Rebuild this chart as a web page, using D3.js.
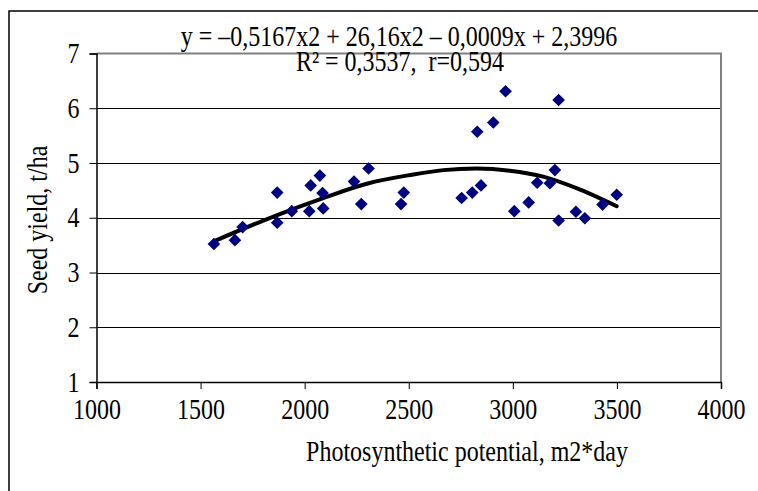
<!DOCTYPE html>
<html>
<head>
<meta charset="utf-8">
<script src="https://cdn.jsdelivr.net/npm/d3@7"></script>
<style>
	body { margin: 0; background: #fff; }
	svg text { font-family: "Liberation Serif", "Times New Roman", serif; fill: #000; font-size: 24px; white-space: pre; }
</style>
</head>
<body>
<div id="chart"></div>
<script>

// photosynthetic potential (m2*day) and seed yield (t/ha)
var potential = [1564, 1665, 1702, 1868, 1868, 1938, 2022, 2029, 2073, 2086, 2089,
	2237, 2272, 2307, 2463, 2476, 2754, 2805, 2829, 2847, 2906, 2965, 3007, 3076,
	3117, 3178, 3202, 3220, 3220, 3303, 3346, 3431, 3499];
var yieldVals = [3.52, 3.59, 3.83, 4.46, 3.91, 4.12, 4.12, 4.59, 4.77, 4.45, 4.17,
	4.66, 4.25, 4.90, 4.25, 4.46, 4.36, 4.46, 5.57, 4.59, 5.74, 6.31, 4.12, 4.28,
	4.64, 4.63, 4.87, 6.15, 3.95, 4.11, 3.99, 4.24, 4.42];

// trend line
var trendX = [1564, 1868, 2089, 2307, 2506, 2666, 2826, 2986, 3146, 3306, 3499];
var trendY = [3.57, 4.05, 4.36, 4.63, 4.78, 4.87, 4.90, 4.86, 4.75, 4.54, 4.21];

var xTicks = [1000, 1500, 2000, 2500, 3000, 3500, 4000];
var yTicks = [1, 2, 3, 4, 5, 6, 7];

var equation = 'y = \u20130,5167x2 + 26,16x2 \u2013 0,0009x + 2,3996';
var rText = 'R\u00b2 = 0,3537,  r=0,594';
var xTitle = 'Photosynthetic potential, m2*day';
var yTitle = 'Seed yield, t/ha';

var width = 758,
	height = 491,
	stretch = 1.2, // the text in the picture is a bit taller than it is wide
	plot = { left: 96.5, right: 721, top: 53.5, bottom: 382 };

var x = d3.scaleLinear().domain([1000, 4000]).range([plot.left, plot.right]);
var y = d3.scaleLinear().domain([1, 7]).range([plot.bottom, plot.top]);

var svg = d3.select('#chart')
	.append('svg')
	.attr('width', width)
	.attr('height', height);

svg.append('rect')
	.attr('width', width).attr('height', height)
	.attr('fill', '#fff');

// outer chart border (runs off the right and bottom edge)
svg.append('rect')
	.attr('x', 9).attr('y', 11)
	.attr('width', 800).attr('height', 520)
	.attr('fill', 'none')
	.attr('stroke', '#000')
	.attr('stroke-width', 1.5);

// gridlines
svg.selectAll('line.grid')
	.data(yTicks.slice(1, -1))
	.enter()
	.append('line')
	.attr('class', 'grid')
	.attr('x1', plot.left).attr('x2', plot.right)
	.attr('y1', function(d){ return Math.round(y(d)) + 0.5; })
	.attr('y2', function(d){ return Math.round(y(d)) + 0.5; })
	.attr('stroke', '#000')
	.attr('stroke-width', 1);

// gray frame on top and right
svg.append('path')
	.attr('d', 'M' + plot.left + ',' + y(7) + 'H' + x(4000) + 'V' + y(1))
	.attr('fill', 'none')
	.attr('stroke', '#808080')
	.attr('stroke-width', 2);

var xAxis = svg.append('g')
	.attr('transform', 'translate(0,' + y(1) + ')')
	.call(d3.axisBottom(x).tickValues(xTicks).tickSize(7).tickFormat(d3.format('d')));

var yAxis = svg.append('g')
	.attr('transform', 'translate(' + x(1000) + ',0)')
	.call(d3.axisLeft(y).tickValues(yTicks).tickSize(7).tickFormat(d3.format('d')));

[xAxis, yAxis].forEach(function(g){
	g.select('.domain').attr('stroke', '#000').attr('stroke-width', 1.5);
	g.selectAll('.tick line').attr('stroke', '#000');
	g.selectAll('.tick text')
		.style('font-family', '"Liberation Serif", serif')
		.style('font-size', '24px')
		.attr('fill', '#000')
		.attr('x', 0).attr('y', 0).attr('dy', 0);
});
xAxis.selectAll('.tick text').attr('transform', 'translate(0,37) scale(1,' + stretch + ')');
yAxis.selectAll('.tick text').attr('transform', 'translate(-17,9) scale(1,' + stretch + ')');

// trend line
var pts = trendX.map(function(v, i){ return [v, trendY[i]]; });
svg.append('path')
	.datum(pts)
	.attr('d', d3.line()
		.x(function(d){ return x(d[0]); })
		.y(function(d){ return y(d[1]); })
		.curve(d3.curveMonotoneX))
	.attr('fill', 'none')
	.attr('stroke', '#000')
	.attr('stroke-width', 4)
	.attr('stroke-linecap', 'round');

// diamonds
svg.selectAll('path.pt')
	.data(potential)
	.enter()
	.append('path')
	.attr('class', 'pt')
	.attr('d', d3.symbol().type(d3.symbolSquare).size(80))
	.attr('transform', function(d, i){
		return 'translate(' + x(d) + ',' + y(yieldVals[i]) + ') rotate(45)';
	})
	.attr('fill', '#000080');

function label(px, py, rot, txt){
	svg.append('text')
		.attr('transform', 'translate(' + px + ',' + py + ') rotate(' + rot + ') scale(1,' + stretch + ')')
		.attr('text-anchor', 'middle')
		.text(txt);
}

label(399, 46, 0, equation);
label(400, 71, 0, rText);
label(467, 461, 0, xTitle);
label(47, 220, -90, yTitle);

</script>
</body>
</html>
